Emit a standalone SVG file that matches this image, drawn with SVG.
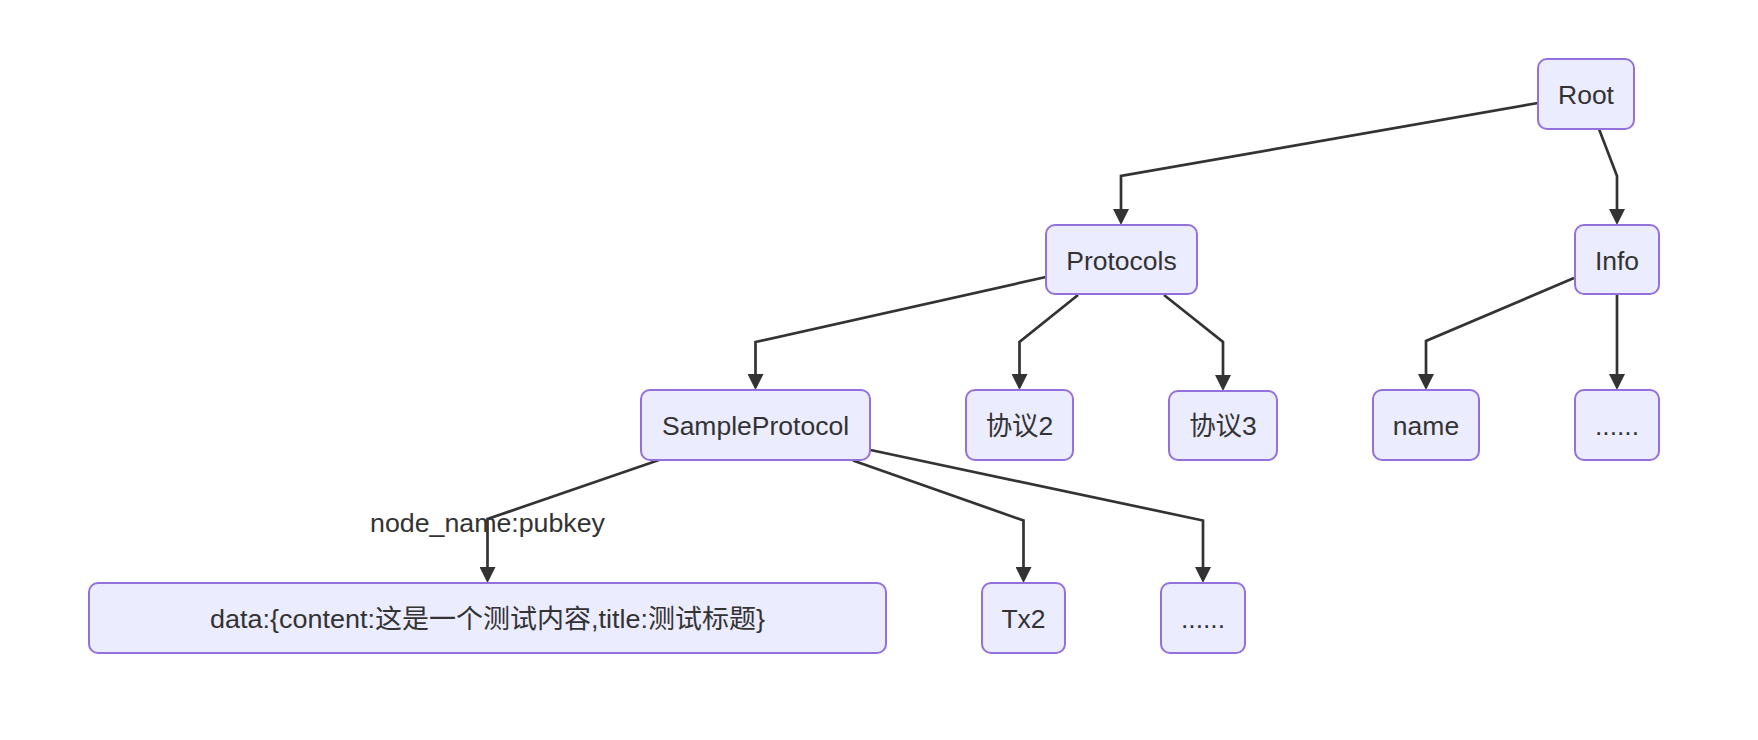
<svg xmlns="http://www.w3.org/2000/svg" width="1758" height="740" viewBox="0 0 1758 740">
<style>
.node rect{fill:#ECECFF;stroke:#9370DB;stroke-width:2;}
.node text,.lbl{font-family:"Liberation Sans","Noto Sans CJK SC",Arial,sans-serif;font-size:26.5px;fill:#333333;text-anchor:middle;}
.edge{fill:none;stroke:#333333;stroke-width:2.7;marker-end:url(#arrow);}
</style>
<defs>
<marker id="arrow" viewBox="0 0 10 10" refX="7.5" refY="5" markerUnits="userSpaceOnUse" markerWidth="16" markerHeight="16" orient="auto">
<path d="M0,0 L10,5 L0,10 z" fill="#333333"/>
</marker>
</defs>
<rect width="1758" height="740" fill="#ffffff"/>
<g id="connectors">
<path class="edge" d="M1538,103 L1121,176 L1121,221"/>
<path class="edge" d="M1599,129 L1617,176 L1617,221"/>
<path class="edge" d="M1046,277 L755.5,342 L755.5,386"/>
<path class="edge" d="M1078,295 L1019.5,342 L1019.5,386"/>
<path class="edge" d="M1164,295 L1223,342 L1223,387"/>
<path class="edge" d="M1574,278 L1426,341 L1426,386"/>
<path class="edge" d="M1617,294 L1617,386"/>
<path class="edge" d="M659,460 L487.5,519 L487.5,579"/>
<path class="edge" d="M853,460.5 L1023.5,520.5 L1023.5,579"/>
<path class="edge" d="M870.5,450 L1203,520.5 L1203,579"/>
<text class="lbl" x="487.5" y="532" textLength="235" lengthAdjust="spacingAndGlyphs">node_name:pubkey</text>
</g>
<g id="Root" class="node"><rect x="1538" y="59" width="96" height="70" rx="9"/><text x="1586" y="104">Root</text></g>
<g id="Protocols" class="node"><rect x="1046" y="225" width="151" height="69" rx="9"/><text x="1121.5" y="269.5">Protocols</text></g>
<g id="Info" class="node"><rect x="1575" y="225" width="84" height="69" rx="9"/><text x="1617" y="269.5">Info</text></g>
<g id="SampleProtocol" class="node"><rect x="641" y="390" width="229" height="70" rx="9"/><text x="755.5" y="435">SampleProtocol</text></g>
<g id="P2" class="node"><rect x="966" y="390" width="107" height="70" rx="9"/><text x="1019.5" y="435">协议2</text></g>
<g id="P3" class="node"><rect x="1169" y="391" width="108" height="69" rx="9"/><text x="1223" y="435">协议3</text></g>
<g id="name" class="node"><rect x="1373" y="390" width="106" height="70" rx="9"/><text x="1426" y="435">name</text></g>
<g id="InfoMore" class="node"><rect x="1575" y="390" width="84" height="70" rx="9"/><text x="1617" y="435">......</text></g>
<g id="data" class="node"><rect x="89" y="583" width="797" height="70" rx="9"/><text x="487.5" y="628" textLength="555" lengthAdjust="spacingAndGlyphs">data:{content:这是一个测试内容,title:测试标题}</text></g>
<g id="Tx2" class="node"><rect x="982" y="583" width="83" height="70" rx="9"/><text x="1023.5" y="628">Tx2</text></g>
<g id="TxMore" class="node"><rect x="1161" y="583" width="84" height="70" rx="9"/><text x="1203" y="628">......</text></g>
</svg>
